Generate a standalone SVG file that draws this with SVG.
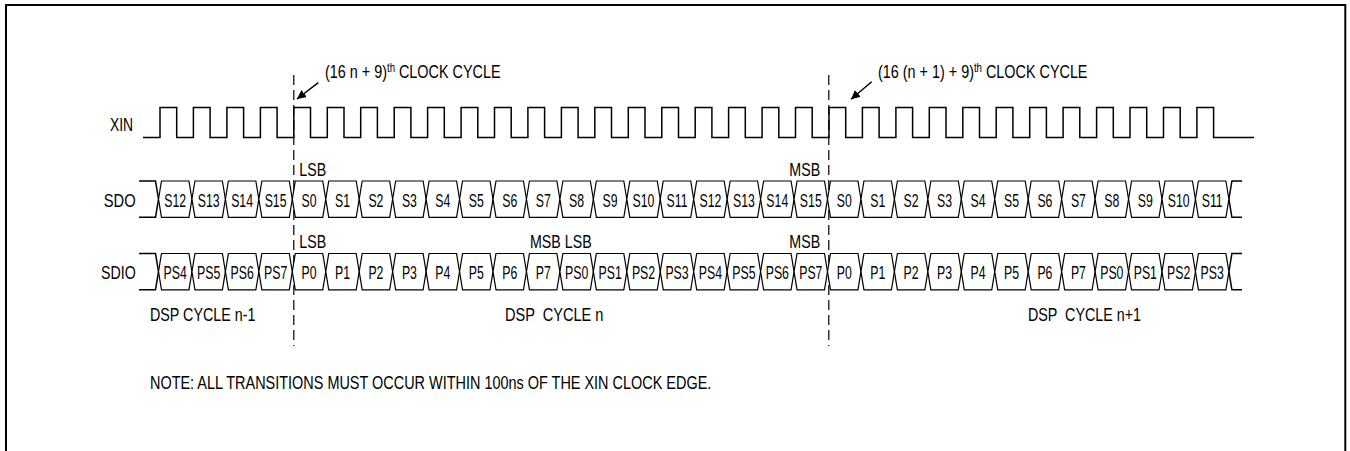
<svg xmlns="http://www.w3.org/2000/svg" xmlns:xlink="http://www.w3.org/1999/xlink" width="1350" height="451" viewBox="0 0 1350 451">
<style>
text{font-family:"Liberation Sans",Arial,sans-serif;fill:#000}
.lbl{font-size:18px}
.cl{font-size:18px;text-anchor:middle}
.sup{font-size:12px}
.w{fill:none;stroke:#000;stroke-width:1.5}
.cell{fill:#fff;stroke:#000;stroke-width:1.2}
.dash{fill:none;stroke:#000;stroke-width:1.2;stroke-dasharray:10 5}
.ar{fill:none;stroke:#000;stroke-width:1.5}
</style>
<defs>
<path id="hex" d="M0,18.2 L3,0 H30.45 L33.45,18.2 L30.45,36.3 H3 Z"/>
<marker id="ah" viewBox="0 0 10 10" refX="10" refY="5" markerWidth="9" markerHeight="9" markerUnits="userSpaceOnUse" orient="auto"><path d="M0,0 L10,5 L0,10 Z" fill="#000"/></marker>
</defs>
<rect x="6" y="5" width="1339.3" height="520" fill="#fff" stroke="#000" stroke-width="2"/>

<g id="labels">
<text class="lbl" transform="translate(133 131) scale(0.77 1)" text-anchor="end">XIN</text>
<text class="lbl" transform="translate(135.7 207.3) scale(0.82 1)" text-anchor="end">SDO</text>
<text class="lbl" transform="translate(135.7 279.3) scale(0.79 1)" text-anchor="end">SDIO</text>
</g>

<g id="xin">
<path class="w" d="M143,137.5 H160 V107.5 H176.7 V137.5 H193.4 V107.5 H210.1 V137.5 H226.9 V107.5 H243.6 V137.5 H260.4 V107.5 H277.1 V137.5 H293.8 V107.5 H310.5 V137.5 H327.3 V107.5 H344 V137.5 H360.7 V107.5 H377.4 V137.5 H394.2 V107.5 H410.9 V137.5 H427.6 V107.5 H444.3 V137.5 H461.1 V107.5 H477.8 V137.5 H494.5 V107.5 H511.2 V137.5 H527.9 V107.5 H544.6 V137.5 H561.4 V107.5 H578.1 V137.5 H594.8 V107.5 H611.5 V137.5 H628.3 V107.5 H645 V137.5 H661.8 V107.5 H678.5 V137.5 H695.2 V107.5 H711.9 V137.5 H728.6 V107.5 H745.3 V137.5 H762.1 V107.5 H778.8 V137.5 H795.5 V107.5 H812.2 V137.5 H829 V107.5 H845.7 V137.5 H862.4 V107.5 H879.1 V137.5 H895.9 V107.5 H912.6 V137.5 H929.3 V107.5 H946 V137.5 H962.8 V107.5 H979.5 V137.5 H996.2 V107.5 H1012.9 V137.5 H1029.7 V107.5 H1046.4 V137.5 H1063.1 V107.5 H1079.8 V137.5 H1096.6 V107.5 H1113.3 V137.5 H1130 V107.5 H1146.7 V137.5 H1163.5 V107.5 H1180.2 V137.5 H1196.9 V107.5 H1213.6 V137.5 H1254"/>
</g>

<g id="connectors">
<path class="dash" d="M293.8,75 V346"/>
<path class="dash" d="M828.8,75 V346"/>
<path class="ar" d="M318.3,82.7 L297,99" marker-end="url(#ah)"/>
<path class="ar" d="M871.7,81.7 L851,99.3" marker-end="url(#ah)"/>
</g>

<g id="annotations">
<text class="lbl" transform="translate(325 78) scale(0.8 1)">(16 n + 9)<tspan class="sup" dy="-6">th</tspan><tspan dy="6"> CLOCK CYCLE</tspan></text>
<text class="lbl" transform="translate(878 78) scale(0.8 1)">(16 (n + 1) + 9)<tspan class="sup" dy="-6">th</tspan><tspan dy="6"> CLOCK CYCLE</tspan></text>
<text class="lbl" transform="translate(299.3 175.5) scale(0.79 1)">LSB</text>
<text class="lbl" transform="translate(299.3 248.3) scale(0.79 1)">LSB</text>
<text class="lbl" transform="translate(789.3 175.5) scale(0.79 1)">MSB</text>
<text class="lbl" transform="translate(789.3 248.3) scale(0.79 1)">MSB</text>
<text class="lbl" transform="translate(530 248.3) scale(0.79 1)">MSB LSB</text>
<text class="lbl" transform="translate(150 321) scale(0.795 1)">DSP CYCLE n-1</text>
<text class="lbl" transform="translate(505 321) scale(0.81 1)" xml:space="preserve">DSP  CYCLE n</text>
<text class="lbl" transform="translate(1028 321) scale(0.795 1)" xml:space="preserve">DSP  CYCLE n+1</text>
<text class="lbl" transform="translate(150 389) scale(0.803 1)">NOTE: ALL TRANSITIONS MUST OCCUR WITHIN 100ns OF THE XIN CLOCK EDGE.</text>
</g>

<g id="sdo">
<path class="w" d="M139,181 H155.5 L158.5,199.2 L155.5,217.3 H139"/>
<path class="w" d="M1242,181 H1231.9 L1228.9,199.2 L1231.9,217.3 H1242"/>
<g id="sdo-0"><use xlink:href="#hex" class="cell" x="158.5" y="181"/><text class="cl" transform="translate(175.2 207.3) scale(0.683 1)">S12</text></g>
<g id="sdo-1"><use xlink:href="#hex" class="cell" x="191.95" y="181"/><text class="cl" transform="translate(208.7 207.3) scale(0.683 1)">S13</text></g>
<g id="sdo-2"><use xlink:href="#hex" class="cell" x="225.4" y="181"/><text class="cl" transform="translate(242.1 207.3) scale(0.683 1)">S14</text></g>
<g id="sdo-3"><use xlink:href="#hex" class="cell" x="258.85" y="181"/><text class="cl" transform="translate(275.6 207.3) scale(0.683 1)">S15</text></g>
<g id="sdo-4"><use xlink:href="#hex" class="cell" x="292.3" y="181"/><text class="cl" transform="translate(309 207.3) scale(0.683 1)">S0</text></g>
<g id="sdo-5"><use xlink:href="#hex" class="cell" x="325.75" y="181"/><text class="cl" transform="translate(342.5 207.3) scale(0.683 1)">S1</text></g>
<g id="sdo-6"><use xlink:href="#hex" class="cell" x="359.2" y="181"/><text class="cl" transform="translate(375.9 207.3) scale(0.683 1)">S2</text></g>
<g id="sdo-7"><use xlink:href="#hex" class="cell" x="392.65" y="181"/><text class="cl" transform="translate(409.4 207.3) scale(0.683 1)">S3</text></g>
<g id="sdo-8"><use xlink:href="#hex" class="cell" x="426.1" y="181"/><text class="cl" transform="translate(442.8 207.3) scale(0.683 1)">S4</text></g>
<g id="sdo-9"><use xlink:href="#hex" class="cell" x="459.55" y="181"/><text class="cl" transform="translate(476.3 207.3) scale(0.683 1)">S5</text></g>
<g id="sdo-10"><use xlink:href="#hex" class="cell" x="493" y="181"/><text class="cl" transform="translate(509.7 207.3) scale(0.683 1)">S6</text></g>
<g id="sdo-11"><use xlink:href="#hex" class="cell" x="526.45" y="181"/><text class="cl" transform="translate(543.2 207.3) scale(0.683 1)">S7</text></g>
<g id="sdo-12"><use xlink:href="#hex" class="cell" x="559.9" y="181"/><text class="cl" transform="translate(576.6 207.3) scale(0.683 1)">S8</text></g>
<g id="sdo-13"><use xlink:href="#hex" class="cell" x="593.35" y="181"/><text class="cl" transform="translate(610.1 207.3) scale(0.683 1)">S9</text></g>
<g id="sdo-14"><use xlink:href="#hex" class="cell" x="626.8" y="181"/><text class="cl" transform="translate(643.5 207.3) scale(0.683 1)">S10</text></g>
<g id="sdo-15"><use xlink:href="#hex" class="cell" x="660.25" y="181"/><text class="cl" transform="translate(677 207.3) scale(0.683 1)">S11</text></g>
<g id="sdo-16"><use xlink:href="#hex" class="cell" x="693.7" y="181"/><text class="cl" transform="translate(710.4 207.3) scale(0.683 1)">S12</text></g>
<g id="sdo-17"><use xlink:href="#hex" class="cell" x="727.15" y="181"/><text class="cl" transform="translate(743.9 207.3) scale(0.683 1)">S13</text></g>
<g id="sdo-18"><use xlink:href="#hex" class="cell" x="760.6" y="181"/><text class="cl" transform="translate(777.3 207.3) scale(0.683 1)">S14</text></g>
<g id="sdo-19"><use xlink:href="#hex" class="cell" x="794.05" y="181"/><text class="cl" transform="translate(810.8 207.3) scale(0.683 1)">S15</text></g>
<g id="sdo-20"><use xlink:href="#hex" class="cell" x="827.5" y="181"/><text class="cl" transform="translate(844.2 207.3) scale(0.683 1)">S0</text></g>
<g id="sdo-21"><use xlink:href="#hex" class="cell" x="860.95" y="181"/><text class="cl" transform="translate(877.7 207.3) scale(0.683 1)">S1</text></g>
<g id="sdo-22"><use xlink:href="#hex" class="cell" x="894.4" y="181"/><text class="cl" transform="translate(911.1 207.3) scale(0.683 1)">S2</text></g>
<g id="sdo-23"><use xlink:href="#hex" class="cell" x="927.85" y="181"/><text class="cl" transform="translate(944.6 207.3) scale(0.683 1)">S3</text></g>
<g id="sdo-24"><use xlink:href="#hex" class="cell" x="961.3" y="181"/><text class="cl" transform="translate(978 207.3) scale(0.683 1)">S4</text></g>
<g id="sdo-25"><use xlink:href="#hex" class="cell" x="994.75" y="181"/><text class="cl" transform="translate(1011.5 207.3) scale(0.683 1)">S5</text></g>
<g id="sdo-26"><use xlink:href="#hex" class="cell" x="1028.2" y="181"/><text class="cl" transform="translate(1044.9 207.3) scale(0.683 1)">S6</text></g>
<g id="sdo-27"><use xlink:href="#hex" class="cell" x="1061.65" y="181"/><text class="cl" transform="translate(1078.4 207.3) scale(0.683 1)">S7</text></g>
<g id="sdo-28"><use xlink:href="#hex" class="cell" x="1095.1" y="181"/><text class="cl" transform="translate(1111.8 207.3) scale(0.683 1)">S8</text></g>
<g id="sdo-29"><use xlink:href="#hex" class="cell" x="1128.55" y="181"/><text class="cl" transform="translate(1145.3 207.3) scale(0.683 1)">S9</text></g>
<g id="sdo-30"><use xlink:href="#hex" class="cell" x="1162" y="181"/><text class="cl" transform="translate(1178.7 207.3) scale(0.683 1)">S10</text></g>
<g id="sdo-31"><use xlink:href="#hex" class="cell" x="1195.45" y="181"/><text class="cl" transform="translate(1212.2 207.3) scale(0.683 1)">S11</text></g>
</g>

<g id="sdio">
<path class="w" d="M139,253.5 H155.5 L158.5,271.7 L155.5,289.8 H139"/>
<path class="w" d="M1242,253.5 H1231.9 L1228.9,271.7 L1231.9,289.8 H1242"/>
<g id="sdio-0"><use xlink:href="#hex" class="cell" x="158.5" y="253.5"/><text class="cl" transform="translate(175.2 279.3) scale(0.683 1)">PS4</text></g>
<g id="sdio-1"><use xlink:href="#hex" class="cell" x="191.95" y="253.5"/><text class="cl" transform="translate(208.7 279.3) scale(0.683 1)">PS5</text></g>
<g id="sdio-2"><use xlink:href="#hex" class="cell" x="225.4" y="253.5"/><text class="cl" transform="translate(242.1 279.3) scale(0.683 1)">PS6</text></g>
<g id="sdio-3"><use xlink:href="#hex" class="cell" x="258.85" y="253.5"/><text class="cl" transform="translate(275.6 279.3) scale(0.683 1)">PS7</text></g>
<g id="sdio-4"><use xlink:href="#hex" class="cell" x="292.3" y="253.5"/><text class="cl" transform="translate(309 279.3) scale(0.683 1)">P0</text></g>
<g id="sdio-5"><use xlink:href="#hex" class="cell" x="325.75" y="253.5"/><text class="cl" transform="translate(342.5 279.3) scale(0.683 1)">P1</text></g>
<g id="sdio-6"><use xlink:href="#hex" class="cell" x="359.2" y="253.5"/><text class="cl" transform="translate(375.9 279.3) scale(0.683 1)">P2</text></g>
<g id="sdio-7"><use xlink:href="#hex" class="cell" x="392.65" y="253.5"/><text class="cl" transform="translate(409.4 279.3) scale(0.683 1)">P3</text></g>
<g id="sdio-8"><use xlink:href="#hex" class="cell" x="426.1" y="253.5"/><text class="cl" transform="translate(442.8 279.3) scale(0.683 1)">P4</text></g>
<g id="sdio-9"><use xlink:href="#hex" class="cell" x="459.55" y="253.5"/><text class="cl" transform="translate(476.3 279.3) scale(0.683 1)">P5</text></g>
<g id="sdio-10"><use xlink:href="#hex" class="cell" x="493" y="253.5"/><text class="cl" transform="translate(509.7 279.3) scale(0.683 1)">P6</text></g>
<g id="sdio-11"><use xlink:href="#hex" class="cell" x="526.45" y="253.5"/><text class="cl" transform="translate(543.2 279.3) scale(0.683 1)">P7</text></g>
<g id="sdio-12"><use xlink:href="#hex" class="cell" x="559.9" y="253.5"/><text class="cl" transform="translate(576.6 279.3) scale(0.683 1)">PS0</text></g>
<g id="sdio-13"><use xlink:href="#hex" class="cell" x="593.35" y="253.5"/><text class="cl" transform="translate(610.1 279.3) scale(0.683 1)">PS1</text></g>
<g id="sdio-14"><use xlink:href="#hex" class="cell" x="626.8" y="253.5"/><text class="cl" transform="translate(643.5 279.3) scale(0.683 1)">PS2</text></g>
<g id="sdio-15"><use xlink:href="#hex" class="cell" x="660.25" y="253.5"/><text class="cl" transform="translate(677 279.3) scale(0.683 1)">PS3</text></g>
<g id="sdio-16"><use xlink:href="#hex" class="cell" x="693.7" y="253.5"/><text class="cl" transform="translate(710.4 279.3) scale(0.683 1)">PS4</text></g>
<g id="sdio-17"><use xlink:href="#hex" class="cell" x="727.15" y="253.5"/><text class="cl" transform="translate(743.9 279.3) scale(0.683 1)">PS5</text></g>
<g id="sdio-18"><use xlink:href="#hex" class="cell" x="760.6" y="253.5"/><text class="cl" transform="translate(777.3 279.3) scale(0.683 1)">PS6</text></g>
<g id="sdio-19"><use xlink:href="#hex" class="cell" x="794.05" y="253.5"/><text class="cl" transform="translate(810.8 279.3) scale(0.683 1)">PS7</text></g>
<g id="sdio-20"><use xlink:href="#hex" class="cell" x="827.5" y="253.5"/><text class="cl" transform="translate(844.2 279.3) scale(0.683 1)">P0</text></g>
<g id="sdio-21"><use xlink:href="#hex" class="cell" x="860.95" y="253.5"/><text class="cl" transform="translate(877.7 279.3) scale(0.683 1)">P1</text></g>
<g id="sdio-22"><use xlink:href="#hex" class="cell" x="894.4" y="253.5"/><text class="cl" transform="translate(911.1 279.3) scale(0.683 1)">P2</text></g>
<g id="sdio-23"><use xlink:href="#hex" class="cell" x="927.85" y="253.5"/><text class="cl" transform="translate(944.6 279.3) scale(0.683 1)">P3</text></g>
<g id="sdio-24"><use xlink:href="#hex" class="cell" x="961.3" y="253.5"/><text class="cl" transform="translate(978 279.3) scale(0.683 1)">P4</text></g>
<g id="sdio-25"><use xlink:href="#hex" class="cell" x="994.75" y="253.5"/><text class="cl" transform="translate(1011.5 279.3) scale(0.683 1)">P5</text></g>
<g id="sdio-26"><use xlink:href="#hex" class="cell" x="1028.2" y="253.5"/><text class="cl" transform="translate(1044.9 279.3) scale(0.683 1)">P6</text></g>
<g id="sdio-27"><use xlink:href="#hex" class="cell" x="1061.65" y="253.5"/><text class="cl" transform="translate(1078.4 279.3) scale(0.683 1)">P7</text></g>
<g id="sdio-28"><use xlink:href="#hex" class="cell" x="1095.1" y="253.5"/><text class="cl" transform="translate(1111.8 279.3) scale(0.683 1)">PS0</text></g>
<g id="sdio-29"><use xlink:href="#hex" class="cell" x="1128.55" y="253.5"/><text class="cl" transform="translate(1145.3 279.3) scale(0.683 1)">PS1</text></g>
<g id="sdio-30"><use xlink:href="#hex" class="cell" x="1162" y="253.5"/><text class="cl" transform="translate(1178.7 279.3) scale(0.683 1)">PS2</text></g>
<g id="sdio-31"><use xlink:href="#hex" class="cell" x="1195.45" y="253.5"/><text class="cl" transform="translate(1212.2 279.3) scale(0.683 1)">PS3</text></g>
</g>
</svg>
